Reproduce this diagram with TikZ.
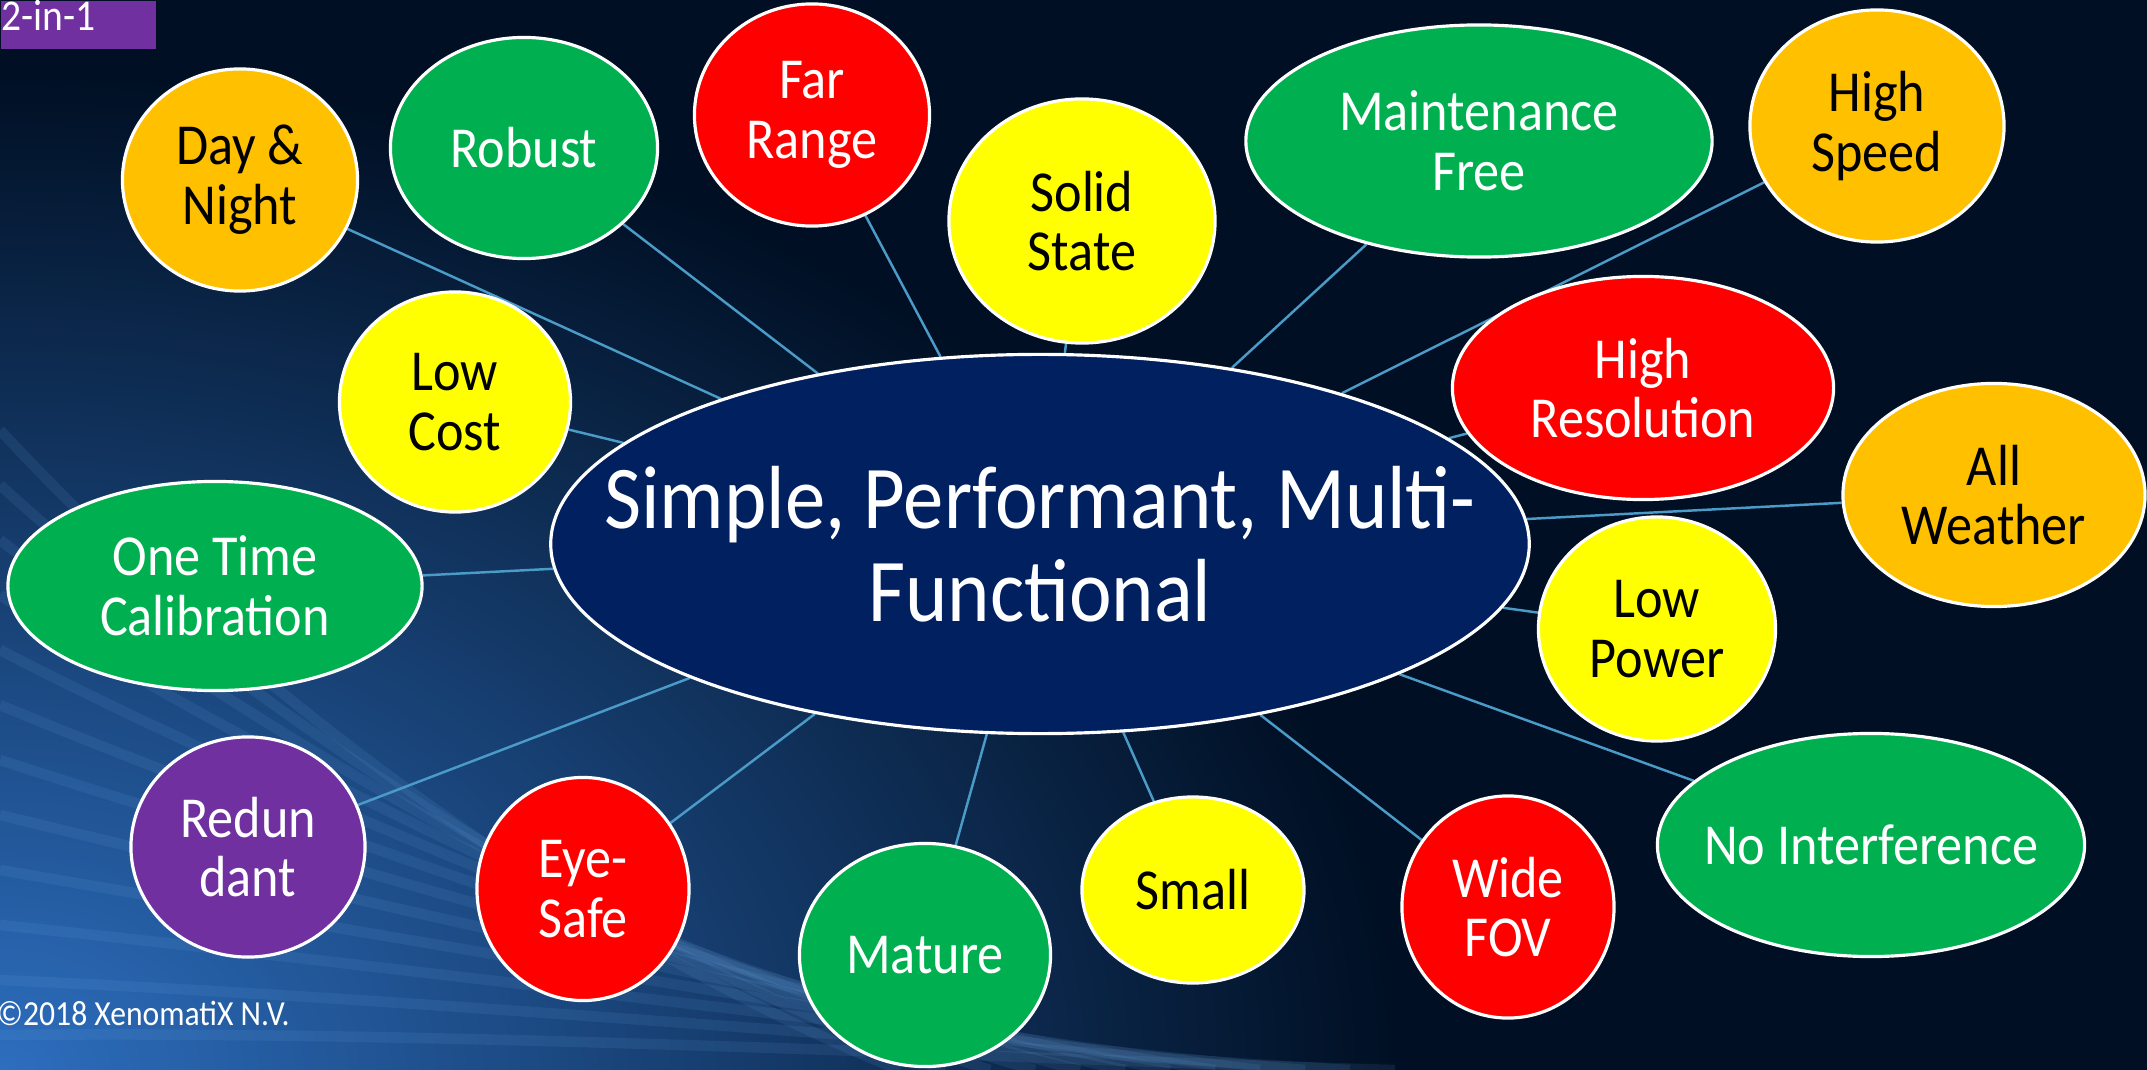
\documentclass[tikz,border=0pt]{standalone}
\usepackage{fontspec}
\setmainfont{Carlito}[FakeStretch=0.9]
\usetikzlibrary{shapes.geometric,backgrounds}

\definecolor{slidenavy}{RGB}{0,15,35}
\definecolor{glowblue}{RGB}{45,110,190}
\definecolor{streakblue}{RGB}{120,180,240}
\definecolor{hubblue}{HTML}{002060}
\definecolor{offgreen}{HTML}{00B050}
\definecolor{offorange}{HTML}{FFC000}
\definecolor{offred}{HTML}{FF0000}
\definecolor{offyellow}{HTML}{FFFF00}
\definecolor{offpurple}{HTML}{7030A0}
\definecolor{linkblue}{RGB}{75,155,200}

\begin{document}
\begin{tikzpicture}[
  x=0.01cm, y=-0.01cm,
  bubble/.style = {
    shape=ellipse,
    draw=white,
    line width=0.9pt,
    fill=#1,
    text=white,
    align=center,
    inner sep=-0.5cm,
    font=\fontsize{16.5}{17}\selectfont
  },
  darkbubble/.style = {bubble=#1, text=black},
  link/.style = {draw=linkblue, line width=0.7pt},
  streak/.style = {draw=streakblue, opacity=0.1, line width=3pt}
]

\useasboundingbox (0,0) rectangle (2147,1070);

% slide background
\begin{scope}[on background layer]
  \fill[slidenavy] (0,0) rectangle (2147,1070);
  \clip (0,0) rectangle (2147,1070);
  \shade[inner color=glowblue, outer color=slidenavy]
    (0,1070) ellipse [x radius=14cm, y radius=10cm];
  \foreach \k in {0,...,11}
    \draw[streak] (0,{430+\k*55}) .. controls ({250+\k*20},{700+\k*30})
      and ({600+\k*40},{950+\k*10}) .. ({900+\k*45},1070);
\end{scope}

\node[fill=offpurple, minimum width=1.55cm, minimum height=0.48cm,
  inner sep=0pt, anchor=north west] (tagbox) at (0,0) {};
\node[anchor=base west, inner sep=0pt, text=white,
  font=\fontsize{12.5}{13}\selectfont] (tagtext) at (1,31) {2-in-1};

\node[bubble=hubblue, minimum width=9.78cm, minimum height=3.79cm,
  inner sep=-1.3cm, font=\fontsize{25.5}{26.5}\selectfont]
  (hub) at (1040,544) {Simple, Performant, Multi-\\Functional};

% top row
\node[darkbubble=offorange, minimum width=2.35cm, minimum height=2.22cm]
  (daynight) at (240,180) {Day \&\\Night};
\node[bubble=offgreen, minimum width=2.67cm, minimum height=2.21cm]
  (robust) at (524,148) {Robust};
\node[bubble=offred, minimum width=2.35cm, minimum height=2.22cm]
  (farrange) at (812,115) {Far\\Range};
\node[darkbubble=offyellow, minimum width=2.66cm, minimum height=2.44cm]
  (solidstate) at (1082,221) {Solid\\State};
\node[bubble=offgreen, minimum width=4.66cm, minimum height=2.32cm]
  (maintfree) at (1479,141) {Maintenance\\Free};
\node[darkbubble=offorange, minimum width=2.54cm, minimum height=2.32cm]
  (highspeed) at (1877,126) {High\\Speed};

% right side
\node[bubble=offred, minimum width=3.81cm, minimum height=2.23cm]
  (highres) at (1643,388) {High\\Resolution};
\node[darkbubble=offorange, minimum width=3.02cm, minimum height=2.23cm]
  (allweather) at (1994,495) {All\\Weather};
\node[darkbubble=offyellow, minimum width=2.37cm, minimum height=2.24cm]
  (lowpower) at (1657,629) {Low\\Power};
\node[bubble=offgreen, minimum width=4.27cm, minimum height=2.23cm]
  (nointerf) at (1871,845) {No Interference};

% bottom row
\node[bubble=offred, minimum width=2.12cm, minimum height=2.22cm]
  (widefov) at (1508,907) {Wide\\FOV};
\node[darkbubble=offyellow, minimum width=2.22cm, minimum height=1.86cm]
  (small) at (1193,890) {Small};
\node[bubble=offgreen, minimum width=2.51cm, minimum height=2.23cm]
  (mature) at (925,955) {Mature};
\node[bubble=offred, minimum width=2.12cm, minimum height=2.23cm]
  (eyesafe) at (583,889) {Eye-\\Safe};
\node[bubble=offpurple, minimum width=2.34cm, minimum height=2.20cm]
  (redundant) at (248,847) {Redun\\dant};

% left side
\node[bubble=offgreen, minimum width=4.14cm, minimum height=2.09cm]
  (onetime) at (215,586) {One Time\\Calibration};
\node[darkbubble=offyellow, minimum width=2.31cm, minimum height=2.20cm]
  (lowcost) at (455,402) {Low\\Cost};

\node[anchor=base east, text=white, font=\fontsize{10}{12}\selectfont]
  (copyright) at (302,1025) {©2018 XenomatiX N.V.};

% connectors behind the bubbles
\begin{scope}[on background layer]
  \foreach \sat in {daynight, robust, farrange, solidstate, maintfree,
      highspeed, highres, allweather, lowpower, nointerf, widefov,
      small, mature, eyesafe, redundant, onetime, lowcost}
    \draw[link] (hub) -- (\sat);
\end{scope}

\end{tikzpicture}
\end{document}
